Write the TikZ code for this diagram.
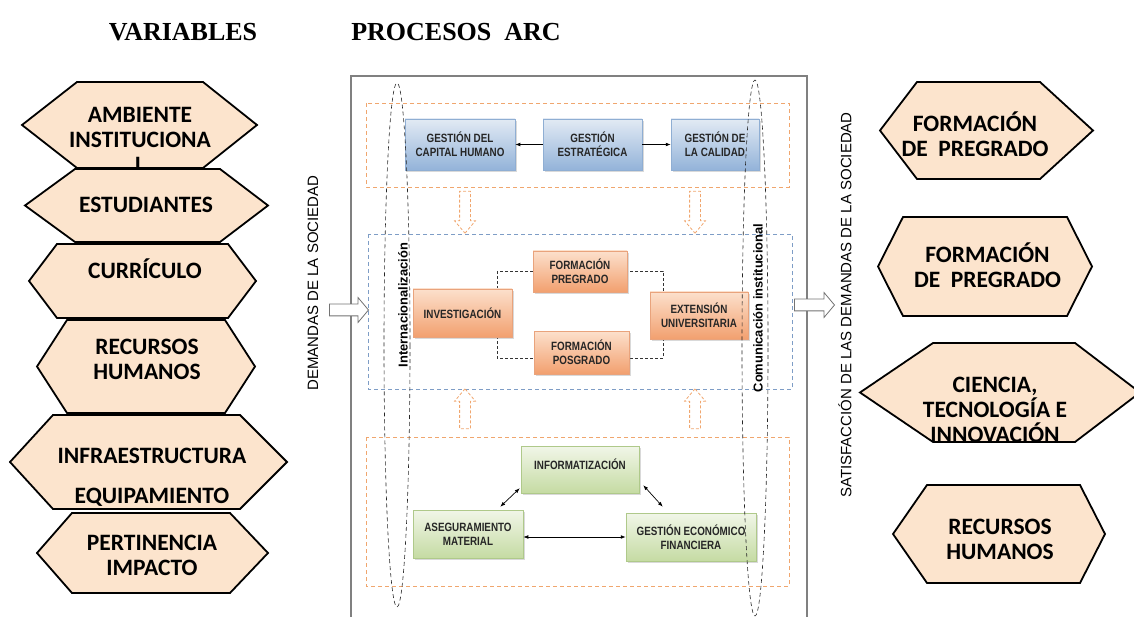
\documentclass[tikz,border=0pt]{standalone}
\usepackage{fontspec}
\setmainfont{Carlito}
\newfontfamily\titlefont{Liberation Serif}
\newfontfamily\labelfont{Liberation Sans}
\newfontfamily\boxfont[FakeStretch=0.82]{Liberation Sans}
\usetikzlibrary{shapes.arrows,shadows,arrows.meta,calc}

\definecolor{hexpeach}{HTML}{FCE4CD}
\definecolor{bluetop}{HTML}{E2EAF4}
\definecolor{bluebot}{HTML}{93B3D9}
\definecolor{bluebord}{HTML}{8FAED3}
\definecolor{orangetop}{HTML}{FCE0CC}
\definecolor{orangebot}{HTML}{F2A06F}
\definecolor{orangebord}{HTML}{E9A37C}
\definecolor{greentop}{HTML}{F1F6E8}
\definecolor{greenbot}{HTML}{C5DBA3}
\definecolor{greenbord}{HTML}{AFC98A}
\definecolor{dashorange}{HTML}{F0A66E}
\definecolor{dashblue}{HTML}{7E9DC6}

\tikzset{
  hexline/.style={line width=1.8pt, line join=miter},
  hextext/.style={align=center, inner sep=0pt,
    font=\bfseries\fontsize{23.5}{25}\selectfont},
  boxbase/.style={draw, line width=0.5pt, align=center, inner sep=1pt,
    text=black!85, font=\boxfont\bfseries\fontsize{12}{14}\selectfont,
    drop shadow={shadow xshift=1.6pt, shadow yshift=-1.6pt, opacity=0.3}},
  bluebox/.style={boxbase, draw=bluebord, top color=bluetop, bottom color=bluebot},
  orangebox/.style={boxbase, draw=orangebord, top color=orangetop, bottom color=orangebot},
  greenbox/.style={boxbase, draw=greenbord, top color=greentop, bottom color=greenbot},
  areabox/.style={dash pattern=on 4pt off 3pt, line width=0.8pt},
  hollowarrow/.style={single arrow, draw=black!55, fill=white, line width=0.8pt,
    inner sep=5.5pt, single arrow head extend=6.5pt, single arrow tip angle=100},
  flowarrow/.style={single arrow, draw=dashorange, dash pattern=on 3pt off 2pt,
    line width=0.8pt, inner sep=5pt, single arrow head extend=5pt,
    single arrow tip angle=80},
  sidelabel/.style={rotate=90, inner sep=0pt, font=\labelfont\fontsize{15}{15}\selectfont},
  axislabel/.style={rotate=90, inner sep=0pt, font=\labelfont\bfseries\fontsize{12.9}{13}\selectfont},
  twoway/.style={{Latex[length=5pt]}-{Latex[length=5pt]}, line width=0.7pt},
}

% #1 left tip, #2/#3 flat edge, #4 right tip, #5 top, #6 bottom, #7 name, #8 text at, #9 text
\newcommand{\hexvar}[9]{%
  \fill[hexpeach] (#1,{(#5+#6)/2}) -- (#2,#5) -- (#3,#5) -- (#4,{(#5+#6)/2})
    -- (#3,#6) -- (#2,#6) -- cycle;
  \node[hextext] (#7) at (#8) {#9};
  \draw[hexline] (#1,{(#5+#6)/2}) -- (#2,#5) -- (#3,#5) -- (#4,{(#5+#6)/2})
    -- (#3,#6) -- (#2,#6) -- cycle;}

\begin{document}
\begin{tikzpicture}[x=1pt, y=-1pt]
  \useasboundingbox (0,0) rectangle (1134,617);
  %\draw [help lines, step=50] (0,0) grid (1134,617);

  % titles
  \node [font=\titlefont\bfseries\fontsize{26}{26}\selectfont] (tvar) at (183,32) {VARIABLES};
  \node [font=\titlefont\bfseries\fontsize{26}{26}\selectfont] (tproc) at (456,32) {PROCESOS\ \ ARC};

  % frame of the ARC processes
  \draw [black!50, line width=1.2pt] (351,620) -- (351,76) -- (807,76) -- (807,620);

  % process areas
  \draw [areabox, dashorange] (366,103) rectangle (789,187);
  \draw [areabox, dashblue] (368,234) rectangle (792,389);
  \draw [areabox, dashorange] (366,437) rectangle (789,586);
  \draw [black!80, dash pattern=on 3pt off 2pt, line width=0.7pt] (497,271) rectangle (663,358);

  \node [flowarrow, rotate=-90, minimum height=42pt] (down1) at (465,209) {};
  \node [flowarrow, rotate=-90, minimum height=42pt] (down2) at (695,209) {};
  \node [flowarrow, rotate=90, minimum height=40pt] (up1) at (465,412) {};
  \node [flowarrow, rotate=90, minimum height=40pt] (up2) at (695,412) {};

  % strategic processes
  \node [bluebox, minimum width=110pt, minimum height=51pt] (capital) at (460,144.5) {GESTIÓN DEL\\CAPITAL HUMANO};
  \node [bluebox, minimum width=99pt, minimum height=51pt] (estrategica) at (592.5,144.5) {GESTIÓN\\ESTRATÉGICA};
  \node [bluebox, minimum width=88pt, minimum height=51pt] (calidad) at (715,144.5) {GESTIÓN DE\\LA CALIDAD};
  \draw [-{Latex[length=5pt]}, line width=0.7pt] (estrategica) -- (capital);
  \draw [-{Latex[length=5pt]}, line width=0.7pt] (estrategica) -- (calidad);

  % key processes
  \node [orangebox, minimum width=94pt, minimum height=41pt] (pregrado) at (580,271.5) {FORMACIÓN\\PREGRADO};
  \node [orangebox, minimum width=95pt, minimum height=43pt] (posgrado) at (581.5,352.5) {FORMACIÓN\\POSGRADO};
  \node [orangebox, minimum width=99pt, minimum height=48pt] (investigacion) at (462.5,313) {INVESTIGACIÓN};
  \node [orangebox, minimum width=98pt, minimum height=47pt] (extension) at (699,315.5) {EXTENSIÓN\\UNIVERSITARIA};

  % support processes
  \node [greenbox, minimum width=118pt, minimum height=47pt] (informatizacion) at (580,469.5) {INFORMATIZACIÓN\\[-3pt]\mbox{}};
  \node [greenbox, minimum width=110pt, minimum height=48pt] (aseguramiento) at (468,534) {ASEGURAMIENTO\\MATERIAL};
  \node [greenbox, minimum width=130pt, minimum height=48pt] (economico) at (691,537) {GESTIÓN ECONÓMICO\\FINANCIERA};
  \draw [twoway] ($(informatizacion.south west)+(-1,-5)$) -- ($(aseguramiento.north east)+(-23,-3)$);
  \draw [twoway] ($(informatizacion.south east)+(4,-8)$) -- ($(economico.north west)+(37,-6)$);
  \draw [twoway] (aseguramiento.east |- economico.west) -- (economico.west);

  % transversal processes
  \draw [black!85, dash pattern=on 4pt off 3pt, line width=0.6pt] (397,345) ellipse [x radius=13, y radius=262];
  \draw [black!85, dash pattern=on 4pt off 3pt, line width=0.6pt] (755,348) ellipse [x radius=13, y radius=268];
  \node [axislabel] (internac) at (403,305) {Internacionalización};
  \node [axislabel] (comunic) at (758,308) {Comunicación institucional};

  % input and output
  \node [sidelabel] (demandas) at (313,283) {DEMANDAS DE LA SOCIEDAD};
  \node [sidelabel] (satisfaccion) at (845,305) {SATISFACCIÓN DE LAS DEMANDAS DE LA SOCIEDAD};
  \node [hollowarrow, minimum height=39pt] (entrada) at (346.5,310) {};
  \node [hollowarrow, minimum height=40pt] (salida) at (812,305) {};

  % variables
  \hexvar{22}{77}{203}{257}{82}{168}{ambiente}{140,140}{AMBIENTE\\INSTITUCIONA\\L}
  \hexvar{25}{75}{220}{268}{169}{242}{estudiantes}{146,205}{ESTUDIANTES}
  \hexvar{29}{57}{228}{256}{244}{318}{curriculo}{145,269}{CURRÍCULO}
  \hexvar{37}{67}{225}{255}{320}{413}{recursos}{147,359.5}{RECURSOS\\HUMANOS}
  \hexvar{10}{53}{240}{287}{415}{509}{infra}{152,477}{INFRAESTRUCTURA\\[15pt]EQUIPAMIENTO}
  \hexvar{37}{72}{230}{268}{513}{593}{pertinencia}{152,555.5}{PERTINENCIA\\IMPACTO}

  % results
  \hexvar{880}{917}{1040}{1093}{82}{179}{pregradoA}{975,134.5}{FORMACIÓN\\DE\ \ PREGRADO}
  \hexvar{878}{903}{1067}{1092}{217}{316}{pregradoB}{987.5,265.5}{FORMACIÓN\\DE\ \ PREGRADO}
  \hexvar{860}{933}{1075}{1140}{343}{442}{ciencia}{995,410}{CIENCIA,\\TECNOLOGÍA E\\INNOVACIÓN}
  \hexvar{893}{927}{1080}{1105}{485}{583}{recursosB}{1000,539.5}{RECURSOS\\HUMANOS}
\end{tikzpicture}
\end{document}
